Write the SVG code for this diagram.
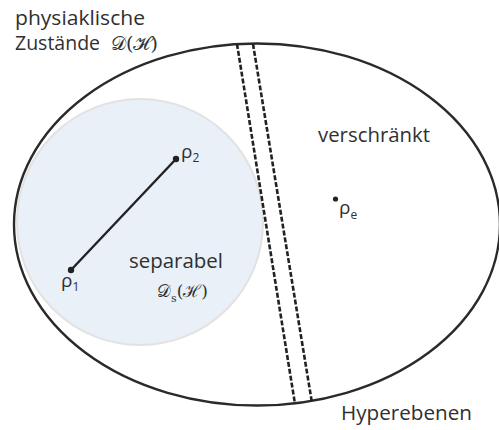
<svg xmlns="http://www.w3.org/2000/svg" width="499" height="430" viewBox="0 0 499 430">
<style>
.t{font-family:"Open Sans","Liberation Sans",sans-serif;fill:#303030;}
.m{font-family:"DejaVu Serif","Liberation Serif",serif;fill:#303030;}
.hp{fill:none;stroke:#222;stroke-width:2.6;stroke-dasharray:5 2;}
</style>
<rect width="499" height="430" fill="#fff"/>
<g id="separable-set">
<circle cx="140" cy="222" r="123" fill="#e9f0f8" stroke="#e2e2e2" stroke-width="2"/>
</g>
<g id="states">
<ellipse cx="257" cy="224.5" rx="243" ry="181" fill="none" stroke="#2a2a2a" stroke-width="2.4"/>
</g>
<g id="connectors">
<line x1="71" y1="270" x2="176" y2="159" stroke="#222" stroke-width="2.4"/>
<line class="hp" x1="237" y1="44" x2="295" y2="404"/>
<line class="hp" x1="253" y1="44" x2="312" y2="403"/>
</g>
<g id="rho1">
<circle cx="71" cy="270" r="3.2" fill="#222"/>
<text class="t" x="61" y="287" font-size="19">ρ<tspan font-size="12" dy="4">1</tspan></text>
</g>
<g id="rho2">
<circle cx="176" cy="159" r="3.2" fill="#222"/>
<text class="t" x="181" y="158" font-size="19">ρ<tspan font-size="12" dy="4">2</tspan></text>
</g>
<g id="rhoe">
<circle cx="335.5" cy="199" r="2.6" fill="#222"/>
<text class="t" x="339" y="214" font-size="19">ρ<tspan font-size="12" dy="5">e</tspan></text>
</g>
<g id="labels">
<text class="t" x="15" y="25" font-size="20" textLength="130" lengthAdjust="spacingAndGlyphs">physiaklische</text>
<text class="t" x="15" y="50" font-size="20" textLength="85" lengthAdjust="spacingAndGlyphs">Zustände</text>
<text class="m" x="111" y="50" font-size="19" textLength="47" lengthAdjust="spacingAndGlyphs">𝒟(ℋ)</text>
<text class="t" x="318" y="142" font-size="20" textLength="112" lengthAdjust="spacingAndGlyphs">verschränkt</text>
<text class="t" x="129" y="268" font-size="20" textLength="94" lengthAdjust="spacingAndGlyphs">separabel</text>
<text class="m" x="157" y="297" font-size="17">𝒟<tspan font-size="11" dy="5">s</tspan><tspan dy="-5">(ℋ)</tspan></text>
<text class="t" x="341" y="420" font-size="20" textLength="131" lengthAdjust="spacingAndGlyphs">Hyperebenen</text>
</g>
</svg>
